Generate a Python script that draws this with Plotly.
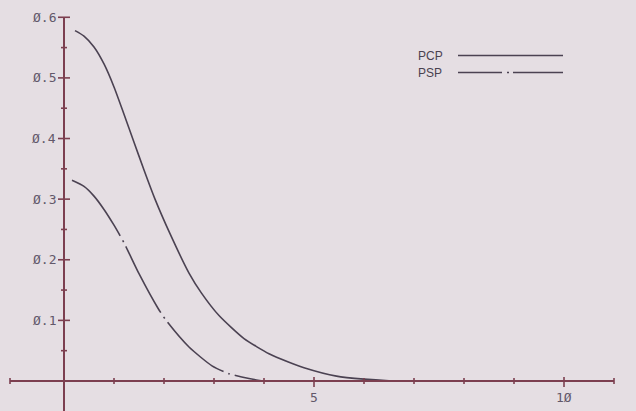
import plotly.graph_objects as go

# ---- data ----
pcp_x = [0.22, 0.4, 0.6, 0.8, 1.0, 1.2, 1.4, 1.6, 1.82, 2.12, 2.5, 2.75, 3.1, 3.6, 4.1, 4.5, 4.8, 5.45, 6.0, 6.5, 6.8]
pcp_y = [0.578, 0.569, 0.551, 0.523, 0.485, 0.440, 0.394, 0.348, 0.300, 0.243, 0.178, 0.145, 0.108, 0.07, 0.045, 0.031, 0.022, 0.008, 0.003, 0.0005, 0.0]
psp_x = [0.16, 0.4, 0.6, 0.8, 1.0, 1.2, 1.5, 1.88, 2.06, 2.5, 2.96, 3.3, 3.7, 3.98]
psp_y = [0.331, 0.321, 0.305, 0.283, 0.257, 0.228, 0.177, 0.12, 0.098, 0.056, 0.025, 0.012, 0.004, 0.0]
series_names = ["PCP", "PSP"]
x_ticks = [1, 2, 3, 4, 5, 6, 7, 8, 9, 10, 11]
x_labels = {5: "5", 10: "1Ø"}
y_ticks = [0.05, 0.1, 0.15, 0.2, 0.25, 0.3, 0.35, 0.4, 0.45, 0.5, 0.55, 0.6]
y_labels = {0.1: "Ø.1", 0.2: "Ø.2", 0.3: "Ø.3", 0.4: "Ø.4", 0.5: "Ø.5", 0.6: "Ø.6"}

W, H = 636, 411
bg = "#e5dee3"
curve_col = "#4b4252"
axis_col = "#7c3f50"
text_col = "#62586a"

fig = go.Figure()
fig.add_trace(go.Scatter(x=pcp_x, y=pcp_y, mode="lines", name=series_names[0],
                         line=dict(color=curve_col, width=1.6, shape="spline", smoothing=0.6)))
fig.add_trace(go.Scatter(x=psp_x, y=psp_y, mode="lines", name=series_names[1],
                         line=dict(color=curve_col, width=1.6, shape="spline", smoothing=0.6,
                                   dash="75px,5px,2px,5px")))

shapes = []
# axes
shapes.append(dict(type="line", xref="x", yref="y", x0=-1.08, x1=11.0, y0=0, y1=0,
                   line=dict(color=axis_col, width=2)))
shapes.append(dict(type="line", xref="x", yref="y", x0=0, x1=0, y0=-0.06, y1=0.6,
                   line=dict(color=axis_col, width=2)))
# x ticks
for t in x_ticks + [-1.08]:
    big = t in x_labels
    shapes.append(dict(type="line", xref="x", yref="y", ysizemode="pixel", yanchor=0,
                       x0=t, x1=t, y0=-6 if big else -3, y1=4 if big else 3,
                       line=dict(color=axis_col, width=1.6)))
# y ticks
for t in y_ticks:
    big = t in y_labels
    shapes.append(dict(type="line", xref="x", yref="y", xsizemode="pixel", xanchor=0,
                       y0=t, y1=t, x0=-6 if big else -3, x1=6 if big else 3,
                       line=dict(color=axis_col, width=1.6)))

annotations = []
for t, s in y_labels.items():
    annotations.append(dict(x=0, y=t, xref="x", yref="y", text=s, showarrow=False,
                            xanchor="right", yanchor="middle", xshift=-6,
                            font=dict(family="DejaVu Sans Mono", size=13, color=text_col)))
for t, s in x_labels.items():
    annotations.append(dict(x=t, y=0, xref="x", yref="y", text=s, showarrow=False,
                            xanchor="center", yanchor="top", yshift=-7,
                            font=dict(family="DejaVu Sans Mono", size=13, color=text_col)))

# legend drawn by hand (long samples as in the original)
def px(xp):
    return xp / W
def py(yp):
    return 1 - yp / H

leg_rows = [(55.5, None), (72.5, "44px,5px,2px,4px,60px,5px")]
for name, (yy, dash) in zip(series_names, leg_rows):
    annotations.append(dict(x=px(430), y=py(yy), xref="paper", yref="paper", text=name,
                            showarrow=False, xanchor="center", yanchor="middle",
                            font=dict(family="Liberation Sans", size=12, color="#4a4250")))
    ln = dict(color=curve_col, width=1.6)
    if dash:
        ln["dash"] = dash
    shapes.append(dict(type="line", xref="paper", yref="paper", x0=px(458), x1=px(563),
                       y0=py(yy), y1=py(yy), line=ln))

fig.update_layout(
    width=W, height=H,
    margin=dict(l=0, r=0, t=0, b=0),
    paper_bgcolor=bg, plot_bgcolor=bg,
    showlegend=False,
    xaxis=dict(range=[-1.28, 11.44], visible=False, fixedrange=True),
    yaxis=dict(range=[-0.0495, 0.6285], visible=False, fixedrange=True),
    shapes=shapes, annotations=annotations,
)

fig.write_html("out.html", config={"displayModeBar": False},
               post_script="document.body.style.margin='0';document.body.style.overflow='hidden';")
